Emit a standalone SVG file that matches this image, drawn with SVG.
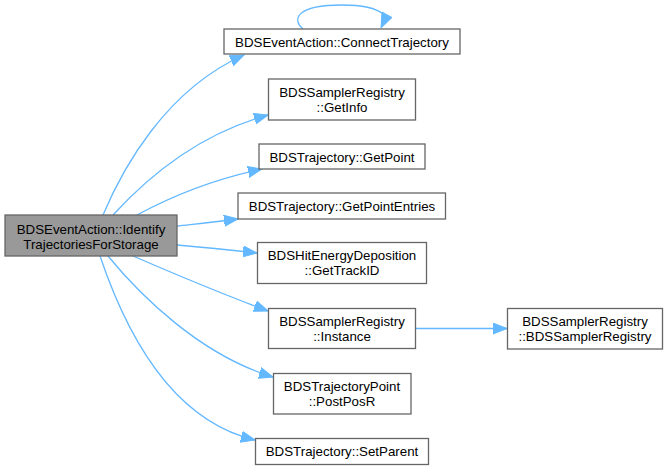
<svg xmlns="http://www.w3.org/2000/svg" width="668" height="470" viewBox="0 0 668 470">
<style>
.n rect{fill:#ffffff;stroke:#666666;stroke-width:1.3}
.n.main rect{fill:#999999}
.n text{font-family:"Liberation Sans",Arial,Helvetica,sans-serif;font-size:13.3px;fill:#000000;text-anchor:middle}
.e path{fill:none;stroke:#63b8ff;stroke-width:1.3;marker-end:url(#ah)}
.e path.loop{marker-end:none}
.e polygon{fill:#63b8ff;stroke:#63b8ff;stroke-width:1}
</style>
<defs>
<marker id="ah" markerUnits="userSpaceOnUse" markerWidth="15" markerHeight="12" refX="14" refY="5.5" orient="auto" viewBox="0 0 15 11">
<path d="M0,0 L14,5.5 L0,11 z" fill="#63b8ff" stroke="#63b8ff" stroke-width="1"/>
</marker>
</defs>
<g id="connectors" class="e">
<path class="loop" d="M303,29 C292,20 295,5 342,5 C365,5 376,8 383,14"/>
<polygon points="382,12 392,17.5 381,28"/>
<path d="M103,215 C122,170 165,90 244,55"/>
<path d="M113,215 C145,180 195,135 268,115"/>
<path d="M137,215 C170,197 210,180 262,169"/>
<path d="M177,226 C195,224 215,222 238,219"/>
<path d="M177,245 C200,247 230,250 257,253"/>
<path d="M133,256 C170,272 225,295 268,311"/>
<path d="M108,256 C140,295 200,355 273,377"/>
<path d="M100,256 C125,330 170,420 255,440"/>
<path d="M415,328.5 L507,328.5"/>
</g>
<g id="node-main" class="n main">
<rect x="5" y="215" width="172" height="41"/>
<text x="91" y="233.5">BDSEventAction::Identify</text>
<text x="91" y="248.5">TrajectoriesForStorage</text>
</g>
<g id="node-connect" class="n">
<rect x="224" y="29" width="236" height="25"/>
<text x="342" y="46.5">BDSEventAction::ConnectTrajectory</text>
</g>
<g id="node-getinfo" class="n">
<rect x="268.5" y="79" width="147" height="41"/>
<text x="342" y="96.5">BDSSamplerRegistry</text>
<text x="342" y="111.5">::GetInfo</text>
</g>
<g id="node-getpoint" class="n">
<rect x="259" y="144" width="166" height="25"/>
<text x="342" y="161.5">BDSTrajectory::GetPoint</text>
</g>
<g id="node-getpointentries" class="n">
<rect x="238" y="193" width="207.5" height="26"/>
<text x="342" y="210.5">BDSTrajectory::GetPointEntries</text>
</g>
<g id="node-gettrackid" class="n">
<rect x="257.5" y="242.5" width="169" height="41"/>
<text x="342" y="260">BDSHitEnergyDeposition</text>
<text x="342" y="275">::GetTrackID</text>
</g>
<g id="node-instance" class="n">
<rect x="268.5" y="308.5" width="147" height="40"/>
<text x="342" y="325.5">BDSSamplerRegistry</text>
<text x="342" y="340.5">::Instance</text>
</g>
<g id="node-postposr" class="n">
<rect x="273.5" y="373.5" width="137.5" height="40.5"/>
<text x="342" y="391">BDSTrajectoryPoint</text>
<text x="342" y="406">::PostPosR</text>
</g>
<g id="node-setparent" class="n">
<rect x="255.5" y="438.5" width="173" height="26"/>
<text x="342" y="456">BDSTrajectory::SetParent</text>
</g>
<g id="node-ctor" class="n">
<rect x="507.5" y="308.5" width="155" height="40.5"/>
<text x="585" y="325.5">BDSSamplerRegistry</text>
<text x="585" y="340.5">::BDSSamplerRegistry</text>
</g>
</svg>
